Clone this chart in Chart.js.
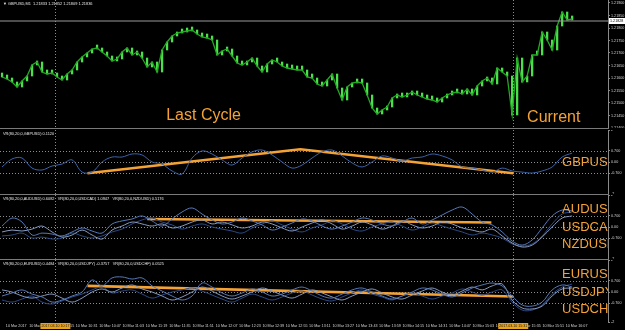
<!DOCTYPE html>
<html>
<head>
<meta charset="utf-8">
<script src="https://cdn.jsdelivr.net/npm/chart.js@4.4.1/dist/chart.umd.min.js"></script>
<style>
  html, body { margin: 0; padding: 0; background: #000; }
  #wrap { position: relative; width: 625px; height: 330px; overflow: hidden; background: #000; }
  .pane { position: absolute; left: 0; }
  .sep { position: absolute; left: 0; width: 609px; height: 1px; background: #7a7a7a; }
</style>
</head>
<body>
<div id="wrap">
  <canvas class="pane" id="cMain" width="625" height="128" style="top:0"></canvas>
  <div class="sep" style="top:128px"></div>
  <canvas class="pane" id="cGbp" width="625" height="64" style="top:130px"></canvas>
  <div class="sep" style="top:194px"></div>
  <canvas class="pane" id="cAud" width="625" height="64" style="top:195px"></canvas>
  <div class="sep" style="top:259px"></div>
  <canvas class="pane" id="cEur" width="625" height="70" style="top:260px"></canvas>
</div>
<script>
// GBPUSD M1, 10 Mar 2017. Time axis = minutes since 09:39 (left edge of the chart)
const START = '09:39';
const X_MAX = 417;
const BAR_START = 1.4, BAR_STEP = 3.43;    // one price sample every ~3.4 bars
const IND_START = 1.4, IND_STEP = 6.86;    // one indicator sample every ~6.9 bars

const tickTimes = ['09:43', '09:59', '10:15', '10:31', '10:47', '11:03', '11:19', '11:35',
  '11:51', '12:07', '12:23', '12:39', '12:55', '13:11', '13:27', '13:43', '13:59', '14:15',
  '14:31', '14:47', '15:03', '15:19', '15:35', '15:51', '16:07'];
const markerTimes = ['10:17', '15:31'];

const closes = [
  1.21604, 1.21596, 1.21584, 1.21564, 1.21588, 1.21608, 1.21652, 1.21664, 1.21624, 1.21616,
  1.21620, 1.21604, 1.21592, 1.21616, 1.21632, 1.21664, 1.21684, 1.21700, 1.21716, 1.21720,
  1.21704, 1.21688, 1.21668, 1.21676, 1.21704, 1.21720, 1.21692, 1.21704, 1.21680, 1.21644,
  1.21664, 1.21624, 1.21712, 1.21744, 1.21768, 1.21780, 1.21784, 1.21788, 1.21792, 1.21776,
  1.21764, 1.21760, 1.21752, 1.21692, 1.21708, 1.21716, 1.21688, 1.21660, 1.21652, 1.21664,
  1.21680, 1.21648, 1.21624, 1.21656, 1.21672, 1.21664, 1.21648, 1.21640, 1.21636, 1.21632,
  1.21632, 1.21604, 1.21600, 1.21576, 1.21568, 1.21592, 1.21616, 1.21560, 1.21512, 1.21564,
  1.21580, 1.21584, 1.21580, 1.21532, 1.21480, 1.21456, 1.21472, 1.21484, 1.21520, 1.21532,
  1.21524, 1.21532, 1.21544, 1.21532, 1.21524, 1.21516, 1.21512, 1.21504, 1.21520, 1.21532,
  1.21540, 1.21544, 1.21536, 1.21556, 1.21532, 1.21568, 1.21588, 1.21600, 1.21576, 1.21640,
  1.21624, 1.21608, 1.21452, 1.21680, 1.21584, 1.21608, 1.21692, 1.21692, 1.21784, 1.21752,
  1.21712, 1.21808, 1.21864, 1.21832, 1.21836
];
const bidPrice = 1.21828;
const priceTicks = [1.214, 1.2145, 1.215, 1.2155, 1.216, 1.2165, 1.217, 1.2175, 1.218, 1.2185, 1.219];

const vrGbp = [-0.31, 0.19, 0.25, -0.38, -0.5, -0.25, -0.13, 0.13, -0.63, -0.63, 0, 0.31, 0.31, 0.5,
  0.44, 0, -0.13, -0.56, -0.75, 0.25, 0.69, 0.5, 0.13, -0.19, 0.25, 0.63, 0.75, 0.44, 0, -0.38,
  -0.19, 0.25, 0.63, 0.75, 0.38, -0.06, -0.31, 0, 0.38, 0.25, 0.06, 0.25, 0.31, 0.5, 0.38, 0.13,
  -0.31, -0.38, -0.5, -0.63, -0.38, -0.56, -0.63, -0.69, -0.56, -0.31, 0.31, 0.56];

const vrAud = [0.06, 0.56, 0.31, -0.5, -0.38, -0.44, -0.56, -0.31, -0.06, -0.25, -0.38, 0.19, 0.38,
  0.5, 0.69, 0.38, 0.06, 0.5, 0.94, 1.19, 0.81, 0.44, 0.19, 0.31, 0.56, 0.38, 0.13, -0.19, 0, 0.25,
  0.5, 0.38, 0.06, -0.13, 0.06, 0.31, 0.56, 0.44, 0.19, 0.06, 0.31, 0.56, 0.19, 0.44, 0.75, 1.06,
  1.25, 0.81, 0.31, 0.13, -0.31, -0.88, -1.13, -0.81, -0.06, 0.69, 1.06, 1.0];
const vrCad = [-0.31, -0.19, -0.25, -0.13, 0.06, -0.31, -0.63, -0.5, -0.19, -0.5, -0.75, -0.19, 0.06,
  0.31, 0.19, 0.06, 0.19, -0.06, 0.06, 0.31, 0.44, 0.19, 0.31, 0.13, -0.06, 0.06, 0.31, 0.19, -0.06,
  -0.25, 0, 0.25, 0.44, 0.19, -0.13, 0.06, 0.31, 0.13, -0.13, 0.06, 0.38, 0.13, -0.06, 0.06, 0.31,
  0.19, -0.06, -0.19, -0.31, -0.13, -0.56, -1.0, -1.25, -1.13, -0.63, 0, 0.56, 0.69];
const vrNzd = [-0.56, -0.5, -0.38, -0.69, -0.63, -0.75, -0.69, -0.38, -0.56, -0.69, -0.56, -0.31, -0.13,
  0.19, 0.44, 0.56, 0.31, 0.13, -0.13, 0.06, 0.19, 0, -0.13, -0.25, -0.38, -0.06, 0.19, 0.38, 0.13,
  -0.13, -0.31, -0.06, 0.13, 0.38, 0.19, -0.13, -0.25, 0, 0.19, 0.31, 0.06, -0.19, 0, 0.25, 0.06,
  -0.13, -0.31, -0.5, -0.38, -0.5, -0.69, -1.06, -1.19, -1.06, -0.56, 0.19, 0.81, 0.94];

const vrEur = [-0.25, -0.06, 0.13, -0.13, -0.31, -0.63, -0.5, -0.25, 0, 0.75, 0.38, 0.88, 0.94, 0.81,
  0.88, 0.38, 0.06, -0.25, -0.5, -0.25, 0.56, 0.31, -0.06, -0.25, -0.06, 0.19, 0, -0.25, -0.13, 0.13,
  0.31, 0.06, -0.25, -0.38, -0.13, 0.13, 0.25, 0, -0.25, -0.44, -0.25, 0, 0.25, 0.13, -0.13, -0.31,
  -0.06, 0.25, 0.44, 0.56, 0.38, -0.25, -0.81, -0.88, -0.63, 0.13, 0.44, 0.31];
const vrJpy = [0.13, 0, -0.25, -0.38, -0.25, -0.13, -0.38, -0.63, -0.38, 0, 0.19, 0, 0.25, 0.44, 0.19,
  0, -0.25, -0.5, -0.31, 0, 0.31, 0.06, -0.25, -0.44, -0.25, 0, 0.25, 0.06, -0.19, -0.38, -0.13, 0.13,
  -0.06, -0.31, -0.5, -0.25, 0, 0.19, -0.06, -0.31, -0.44, -0.19, 0.06, 0.25, 0, -0.19, 0.06, 0.31,
  0.13, 0.38, 0.5, -0.5, -1.0, -1.06, -0.88, -0.25, 0.19, 0.25];
const vrChf = [-0.5, -0.63, -0.44, -0.25, -0.63, -0.75, -0.56, -0.31, -0.13, 0.13, 0.31, -0.06, 0.06,
  0.13, -0.13, -0.38, -0.19, 0, 0.13, 0.25, 0.06, -0.19, -0.44, -0.63, -0.38, -0.13, -0.31, -0.5,
  -0.31, -0.06, 0.06, -0.19, -0.44, -0.56, -0.31, -0.06, 0.13, -0.13, -0.31, -0.5, -0.25, -0.06,
  -0.25, -0.44, -0.25, -0.06, 0.19, 0, -0.19, 0, 0.13, -0.63, -1.13, -1.13, -0.81, -0.13, 0.31, 0.5];

// trend lines drawn on the indicator windows
const gbpTrendTimes = ['10:39', '13:05', '15:31'];
const gbpTrendVals = [-0.7, 0.8, -0.7];
const audTrendTimes = ['11:20', '15:16'];
const audTrendVals = [0.5, 0.28];
const eurTrendTimes = ['10:39', '15:31'];
const eurTrendVals = [0.38, -0.28];

const levels = [0.7, 0, -0.7];
const vrTicks = [-2, -0.7, 0, 0.7, 2];

const ORANGE = '#f4a236';
const FONT = '"Liberation Sans", Arial, sans-serif';

function toMin(t) {
  const [h, m] = t.split(':').map(Number);
  const [h0, m0] = START.split(':').map(Number);
  return h * 60 + m - (h0 * 60 + m0);
}
const series = (vals, start, step) => vals.map((v, i) => ({ x: start + step * i, y: v }));
const timed = (times, vals) => times.map((t, i) => ({ x: toMin(t), y: vals[i] }));

Chart.defaults.font.family = FONT;
Chart.defaults.animation = false;
Chart.defaults.events = [];
Chart.defaults.plugins.legend.display = false;
Chart.defaults.plugins.tooltip.enabled = false;

function yAxis(min, max, ticks, fmt) {
  return {
    position: 'right', min, max,
    afterBuildTicks: s => { s.ticks = ticks.map(v => ({ value: v })); },
    afterFit: s => { s.width = 17; s.paddingTop = 0; s.paddingBottom = 0; },
    grid: { drawOnChartArea: false, drawTicks: true, tickLength: 2, color: '#8a8a8a' },
    border: { display: true, color: '#8a8a8a' },
    ticks: { color: '#d4d4d4', font: { size: 3.7 }, padding: 1, callback: fmt }
  };
}
const hiddenX = { type: 'linear', min: 0, max: X_MAX, offset: false, display: false };
const vrFmt = v => (Math.abs(v) > 1.5 ? String(Math.round(v)) : v === 0 ? '0.00' : v.toFixed(3));

function line(ctx, x1, y1, x2, y2) {
  ctx.beginPath(); ctx.moveTo(x1, y1); ctx.lineTo(x2, y2); ctx.stroke();
}

// window decorations: level lines, markers, title, big symbol names
function decor(cfg) {
  return {
    id: 'decor',
    beforeDatasetsDraw(chart) {
      const { ctx, chartArea: a, scales: { x, y } } = chart;
      ctx.save();
      ctx.strokeStyle = '#8c8c8c';
      ctx.lineWidth = 1;
      ctx.setLineDash([1, 2]);
      (cfg.levels || []).forEach(v => {
        const py = Math.round(y.getPixelForValue(v)) + 0.5;
        line(ctx, a.left, py, a.right, py);
      });
      markerTimes.forEach(t => {
        const px = Math.round(x.getPixelForValue(toMin(t))) + 0.5;
        line(ctx, px, a.top, px, a.bottom);
      });
      ctx.restore();
    },
    afterDatasetsDraw(chart) {
      const { ctx, chartArea: a, scales: { x, y } } = chart;
      ctx.save();
      ctx.beginPath();
      ctx.rect(a.left, a.top, a.right - a.left, a.bottom - a.top);
      ctx.clip();
      ctx.fillStyle = ORANGE;
      ctx.textBaseline = 'middle';
      (cfg.names || []).forEach(n => {
        ctx.font = (n.size || 13) + 'px ' + FONT;
        ctx.fillText(n.text, x.getPixelForValue(n.x), y.getPixelForValue(n.y));
      });
      ctx.fillStyle = '#e6e6e6';
      ctx.font = '3.9px ' + FONT;
      ctx.textBaseline = 'top';
      ctx.fillText(cfg.title, a.left + 3, a.top + 2);
      ctx.restore();
    },
    afterDraw(chart) {
      const { ctx, chartArea: a, scales: { x, y } } = chart;
      ctx.save();
      if (cfg.bid) {
        const py = Math.round(y.getPixelForValue(cfg.bid));
        ctx.fillStyle = '#ffffff';
        ctx.fillRect(a.right + 1, py - 3, 16, 6);
        ctx.fillStyle = '#000';
        ctx.font = '3.7px ' + FONT;
        ctx.textBaseline = 'middle';
        ctx.fillText(cfg.bid.toFixed(5), a.right + 2, py);
      }
      if (cfg.timeBoxes) {
        ctx.font = '3.6px ' + FONT;
        ctx.textBaseline = 'middle';
        ctx.textAlign = 'center';
        markerTimes.forEach(t => {
          const px = x.getPixelForValue(toMin(t));
          const txt = '2017.03.10 ' + t;
          const w = ctx.measureText(txt).width + 2;
          ctx.fillStyle = '#e9a21c';
          ctx.fillRect(px - w / 2, a.bottom + 1, w, 6);
          ctx.fillStyle = '#1a1a1a';
          ctx.fillText(txt, px, a.bottom + 4);
        });
      }
      ctx.restore();
    }
  };
}

// ---- main price window
const barData = closes.map((c, i) => ({
  x: BAR_START + BAR_STEP * i,
  y: [i ? closes[i - 1] : c, c]
}));
new Chart(document.getElementById('cMain'), {
  type: 'bar',
  data: {
    datasets: [
      { type: 'line', data: [{ x: 0, y: bidPrice }, { x: X_MAX, y: bidPrice }],
        borderColor: '#9a9a9a', borderWidth: 1, pointRadius: 0 },
      { type: 'line', data: series(closes, BAR_START, BAR_STEP),
        borderColor: '#23a823', borderWidth: 1.3, pointRadius: 0 },
      { data: barData, backgroundColor: '#4be04b', barThickness: 1.6, minBarLength: 4, grouped: false }
    ]
  },
  options: {
    responsive: false,
    layout: { padding: 0, autoPadding: false },
    scales: {
      x: hiddenX,
      y: yAxis(1.214, 1.21912, priceTicks, v => v.toFixed(5))
    }
  },
  plugins: [decor({
    title: '\u25BC GBPUSD,M1  1.21833 1.21852 1.21809 1.21836',
    bid: bidPrice,
    names: [{ text: 'Last Cycle', x: 114, y: 1.21448, size: 16 }, { text: 'Current', x: 361.5, y: 1.2144, size: 16 }]
  })]
});

// ---- indicator windows
function vrChart(id, lines, trend, title, names, bottom) {
  const xScale = bottom ? {
    type: 'linear', min: 0, max: X_MAX, position: 'bottom',
    afterBuildTicks: s => { s.ticks = tickTimes.map(t => ({ value: toMin(t) })); },
    afterFit: s => { s.height = 8; s.paddingLeft = 0; s.paddingRight = 0; },
    grid: { display: false, drawTicks: false },
    border: { display: false },
    ticks: {
      color: '#d4d4d4', font: { size: 3.7 }, padding: 1.5, align: 'start',
      maxRotation: 0, autoSkip: false,
      callback: (v, i) => (i === 0 ? '10 Mar 2017' : '10 Mar ' + tickTimes[i])
    }
  } : hiddenX;
  const datasets = lines.map(l => ({
    type: 'line', data: series(l.vals, IND_START, IND_STEP), borderColor: l.color,
    borderWidth: 1, pointRadius: 0, tension: 0.35
  }));
  datasets.push({ type: 'line', data: timed(trend.times, trend.vals), borderColor: ORANGE,
    borderWidth: 2.6, pointRadius: 0 });
  const rows = names.length === 1 ? [0] : [1.1, 0, -1.1];
  new Chart(document.getElementById(id), {
    type: 'line',
    data: { datasets },
    options: {
      responsive: false,
      layout: { padding: 0, autoPadding: false },
      scales: { x: xScale, y: yAxis(bottom ? -1.875 : -2, 2, bottom ? [-1.875, -0.7, 0, 0.7, 2] : vrTicks, vrFmt) }
    },
    plugins: [decor({ title, levels, names: names.map((n, i) => ({ text: n, x: 385.5, y: rows[i] })), timeBoxes: bottom })]
  });
}

vrChart('cGbp', [{ vals: vrGbp, color: '#3d63a8' }],
  { times: gbpTrendTimes, vals: gbpTrendVals },
  'VR(80,20,0,GBPUSD) 0.1120', ['GBPUSD'], false);
vrChart('cAud', [{ vals: vrAud, color: '#5679b8' }, { vals: vrCad, color: '#8799bd' }, { vals: vrNzd, color: '#2c4a86' }],
  { times: audTrendTimes, vals: audTrendVals },
  'VR(80,20,0,AUDUSD) 0.6082   VR(80,20,0,USDCAD) 1.0947   VR(80,20,0,NZDUSD) 0.5176',
  ['AUDUSD', 'USDCAD', 'NZDUSD'], false);
vrChart('cEur', [{ vals: vrEur, color: '#5679b8' }, { vals: vrJpy, color: '#8799bd' }, { vals: vrChf, color: '#2c4a86' }],
  { times: eurTrendTimes, vals: eurTrendVals },
  'VR(80,20,0,EURUSD) 0.4484   VR(80,20,0,USDJPY) -0.3757   VR(80,20,0,USDCHF) 0.0525',
  ['EURUSD', 'USDJPY', 'USDCHF'], true);
</script>
</body>
</html>
